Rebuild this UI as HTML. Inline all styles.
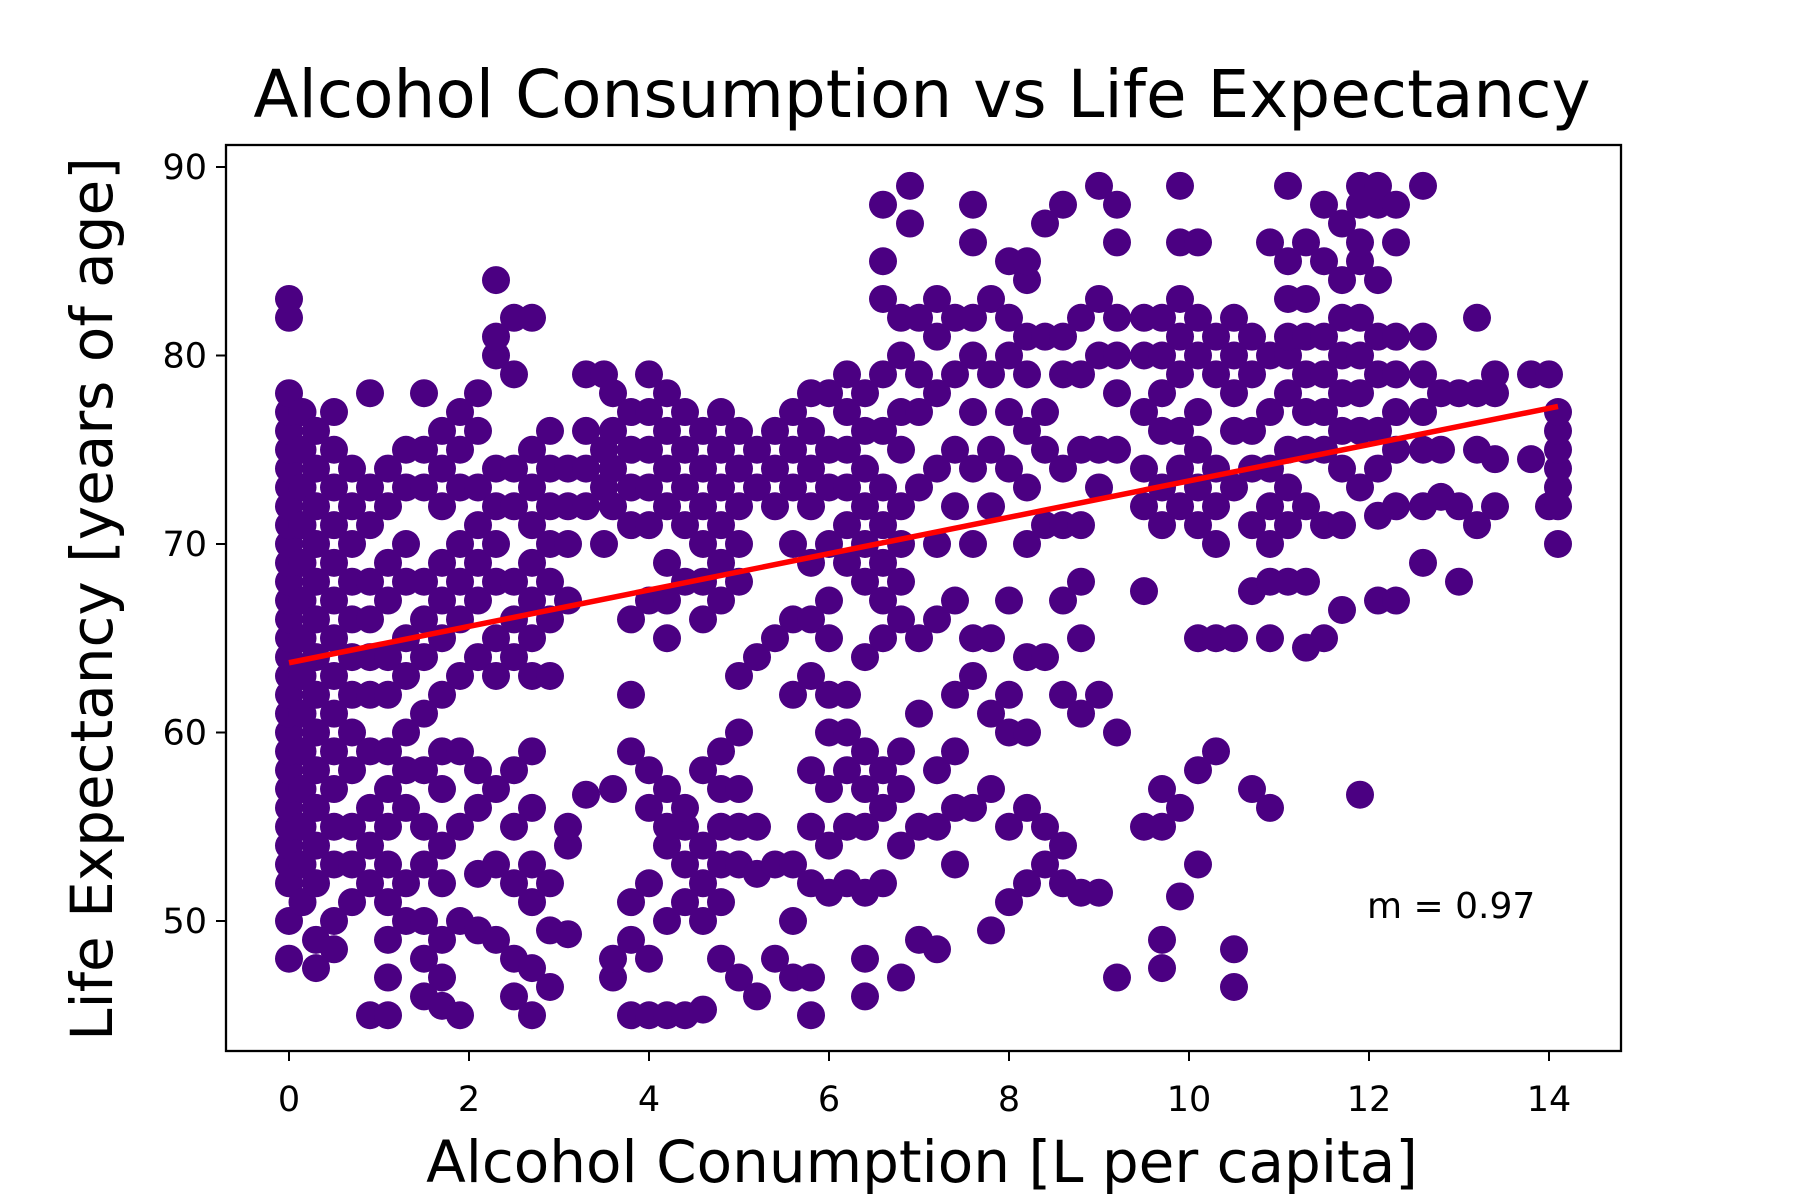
<!DOCTYPE html>
<html><head><meta charset="utf-8"><style>
html,body{margin:0;padding:0;background:#fff;}
svg{display:block;font-family:"DejaVu Sans","Liberation Sans",sans-serif;}
</style></head><body>
<svg id="chart" width="1800" height="1200" viewBox="0 0 1800 1200">
<rect width="1800" height="1200" fill="#fff"/>
<text x="922" y="117" font-size="66" text-anchor="middle">Alcohol Consumption vs Life Expectancy</text>
<g id="points"></g>
<g id="fit"></g>
<rect x="226" y="145" width="1395" height="906" fill="none" stroke="#000" stroke-width="2.3"/>
<g id="xticks"></g>
<g id="yticks"></g>
<text x="922" y="1182" font-size="58" text-anchor="middle">Alcohol Conumption [L per capita]</text>
<text transform="translate(112,599) rotate(-90)" font-size="58" text-anchor="middle">Life Expectancy [years of age]</text>
<text x="1367" y="918" font-size="36">m = 0.97</text>
</svg>
<script>
const xTickValues = [0,2,4,6,8,10,12,14];
const yTickValues = [50,60,70,80,90];
const fitStart = [0, 63.7];
const fitEnd = [14.1, 77.3];
const columnX = [0,0.15,0.3,0.5,0.7,0.9,1.1,1.3,1.5,1.7,1.9,2.1,2.3,2.5,2.7,2.9,3.1,3.3,3.5,3.6,3.8,4.0,4.2,4.4,4.6,4.8,5.0,5.2,5.4,5.6,5.8,6.0,6.2,6.4,6.6,6.8,6.9,7.0,7.2,7.4,7.6,7.8,8.0,8.2,8.4,8.6,8.8,9.0,9.2,9.5,9.7,9.9,10.1,10.3,10.5,10.7,10.9,11.1,11.3,11.5,11.7,11.9,12.1,12.3,12.6,12.8,13.0,13.2,13.4,13.8,14.0,14.1];
const columnY = [
[48,50,52,53,54,55,56,57,58,59,60,61,62,63,64,65,66,67,68,69,70,71,72,73,74,75,76,77,78,82,83],
[51,53,55,57,59,61,63,65,67,69,71,73,75,77],
[47.5,49,52,54,56,58,60,62,64,66,68,70,72,74,76],
[48.5,50,53,55,57,59,61,63,65,67,69,71,73,75,77],
[51,53,55,58,60,62,64,66,68,70,72,74],
[52,54,56,59,62,64,66,68,71,73,78,45],
[45,47,49,51,53,55,57,59,62,64,67,69,72,74],
[50,52,56,58,60,63,65,68,70,73,75],
[46,48,50,53,55,58,61,64,66,68,73,75,78],
[45.5,47,49,52,54,57,59,62,65,67,69,72,74,76],
[45,50,55,59,63,66,68,70,73,75,77],
[49.5,52.5,56,58,64,67,69,71,73,76,78],
[49,53,57,63,65,68,70,72,74,80,84,81],
[46,48,52,55,58,64,66,68,72,74,79,82],
[45,47.5,51,53,56,59,63,65,67,69,71,73,75,82],
[46.5,49.5,52,63,66,68,70,72,74,76],
[49.3,54,55,67,70,72,74],
[56.7,72,74,76,79],
[73,75,79,70],
[47,48,57,72,74,76,78],
[45,49,51,59,62,66,71,73,75,77],
[45,48,52,56,58,67,71,73,75,77,79],
[45,50,54,55,57,65,67,69,72,74,76,78],
[45,51,53,55,56,68,71,73,75,77],
[45.3,50,52,54,58,66,68,70,72,74,76],
[48,51,53,55,57,59,67,69,71,73,75,77],
[47,53,55,57,60,63,68,70,72,74,76],
[46,52.5,55,64,73,75],
[48,53,65,72,74,76],
[47,50,53,62,66,70,73,75,77],
[45,47,52,55,58,63,66,69,72,74,76,78],
[51.5,54,57,60,62,65,67,70,73,75,78],
[52,55,58,60,62,69,71,73,75,77,79],
[46,48,51.5,55,57,59,64,68,70,72,74,76,78],
[52,56,58,65,67,69,71,73,76,79,83,85,88],
[47,54,57,59,66,68,70,72,75,77,80,82],
[87,89],
[49,55,61,65,73,77,79,82],
[48.5,55,58,66,70,74,78,81,83],
[53,56,59,62,67,72,75,79,82],
[56,63,65,70,74,77,80,82,88,86],
[49.5,57,61,65,72,75,79,83],
[51,55,60,62,67,74,77,80,82,85],
[52,56,60,64,70,73,76,79,81,84,85],
[53,55,64,71,75,77,81,87],
[52,54,62,67,71,74,79,81,88],
[51.5,61,65,68,71,75,79,82],
[51.5,62,73,75,80,83,89],
[47,60,75,78,80,82,86,88],
[55,67.5,72,74,77,80,82],
[47.5,49,55,57,71,73,76,78,80,82],
[51.3,56,72,74,76,79,81,83,86,89],
[53,58,65,71,73,75,77,80,82,86],
[59,65,70,72,74,79,81],
[46.5,48.5,65,73,76,78,80,82],
[57,67.5,71,74,76,79,81],
[56,65,68,70,72,74,77,80,86],
[68,71,73,75,78,80,81,83,85,89],
[64.5,68,72,75,77,79,81,83,86],
[65,71,75,77,79,81,85,88],
[66.5,71,74,76,78,80,82,84,87],
[56.7,73,76,78,80,82,85,86,88,89],
[67,71.5,74,76,79,81,84,88,89],
[67,72,75,77,79,81,86,88],
[69,72,75,77,79,81,89],
[72.5,75,78],
[68,72,78],
[71,75,78,82],
[72,74.5,78,79],
[74.5,79],
[72,79],
[70,72,73,74,75,76,77]
];
const NS="http://www.w3.org/2000/svg";
function xScale(v){return 289 + v*90.0;}
function yScale(v){return 921 - (v-50)*18.85;}
function mk(tag,attrs,parent){const e=document.createElementNS(NS,tag);for(const k in attrs)e.setAttribute(k,attrs[k]);parent.appendChild(e);return e;}
const pg=document.getElementById('points');
columnX.forEach((cx,i)=>{
  columnY[i].forEach(v=>{
    const c=mk('circle',{cx:xScale(cx),cy:yScale(v),r:14,fill:'#4b0082'},pg);
    
    
  });
});
const fg=document.getElementById('fit');
const ln=mk('line',{x1:xScale(fitStart[0]),y1:yScale(fitStart[1]),x2:xScale(fitEnd[0]),y2:yScale(fitEnd[1]),stroke:'#ff0000','stroke-width':5.5},fg);


const xg=document.getElementById('xticks');
xTickValues.forEach(v=>{
  const t=mk('line',{x1:xScale(v),x2:xScale(v),y1:1051,y2:1061,stroke:'#000','stroke-width':2},xg);
  
  
  const l=mk('text',{x:xScale(v),y:1111,'font-size':35,'text-anchor':'middle'},xg);
  l.textContent=v;
  
  
});
const yg=document.getElementById('yticks');
yTickValues.forEach(v=>{
  const t=mk('line',{x1:216,x2:226,y1:yScale(v),y2:yScale(v),stroke:'#000','stroke-width':2},yg);
  
  
  const l=mk('text',{x:207,y:yScale(v)+12,'font-size':35,'text-anchor':'end'},yg);
  l.textContent=v;
  
  
});
</script>
</body></html>
